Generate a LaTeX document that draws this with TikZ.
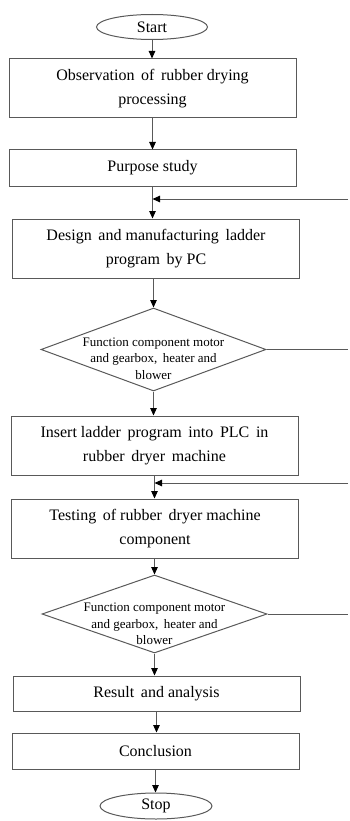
\documentclass[tikz,border=0pt]{standalone}
\usepackage{fontspec}
\setmainfont{Liberation Serif}
\usetikzlibrary{shapes.geometric,arrows.meta}
\begin{document}
\begin{tikzpicture}[x=1pt,y=-1pt,
  line/.style={draw=black!65,line width=1pt},
  arr/.style={line,-{Triangle[width=6.5pt,length=7.5pt,color=black,fill=black]}},
  procbox/.style={line,rectangle,minimum width=287pt,inner sep=0pt,align=center,font=\fontsize{16}{24}\selectfont},
  term/.style={line,ellipse,minimum width=111pt,minimum height=25pt,inner sep=0pt,font=\fontsize{16}{20}\selectfont},
  dec/.style={line,diamond,minimum width=225pt,inner sep=0pt},
  dtext/.style={align=center,font=\fontsize{13}{16.5}\selectfont,inner sep=0pt}]
\useasboundingbox (0,0) rectangle (349,821);
\node[term] (start) at (152,27) {Start};
\node[procbox,minimum height=59pt] (obs) at (152.5,88.5) {Observation\, of\, rubber drying\\processing};
\node[procbox,minimum height=36pt] (purpose) at (152.5,168) {Purpose study};
\node[procbox,minimum height=59pt] (design) at (156,248.5) {Design\, and manufacturing\, ladder\\program\, by PC};
\node[dec,minimum height=83pt,label={[dtext,yshift=-9pt]center:Function component motor\\and gearbox,\, heater and\\blower}] (dec1) at (153.5,349.5) {};
\node[procbox,minimum height=59pt] (insert) at (154.5,445.5) {Insert ladder\, program\, into\, PLC\, in\\rubber\, dryer\, machine};
\node[procbox,minimum height=59pt] (testing) at (155,528.5) {Testing\, of rubber\, dryer machine\\component};
\node[dec,minimum height=78pt,label={[dtext,yshift=-10pt]center:Function component motor\\and gearbox,\, heater and\\blower}] (dec2) at (154.5,614) {};
\node[procbox,minimum height=35pt] (result) at (156.5,693.5) {Result\, and analysis};
\node[procbox,minimum height=36pt] (concl) at (155.5,751) {Conclusion};
\node[term,minimum width=112pt,minimum height=26pt] (stop) at (156,806) {Stop};
\coordinate (fb1) at (348,199);
\coordinate (fb2) at (348,483);
\draw[arr] (start.south) -- (start.south |- obs.north);
\draw[arr] (obs.south) -- (obs.south |- purpose.north);
\draw[arr] (purpose.south) -- (purpose.south |- design.north);
\draw[arr] (fb1) -- (fb1 -| purpose.south);
\draw[arr] (design.south -| dec1.north) -- (dec1.north);
\draw[line] (dec1.east) -- (dec1.east -| fb1);
\draw[arr] (dec1.south) -- (dec1.south |- insert.north);
\draw[arr] (insert.south) -- (insert.south |- testing.north);
\draw[arr] (fb2) -- (fb2 -| insert.south);
\draw[arr] (testing.south -| dec2.north) -- (dec2.north);
\draw[line] (dec2.east) -- (dec2.east -| fb2);
\draw[arr] (dec2.south) -- (dec2.south |- result.north);
\draw[arr] (result.south) -- (result.south |- concl.north);
\draw[arr] (concl.south) -- (concl.south |- stop.north);
\end{tikzpicture}
\end{document}
